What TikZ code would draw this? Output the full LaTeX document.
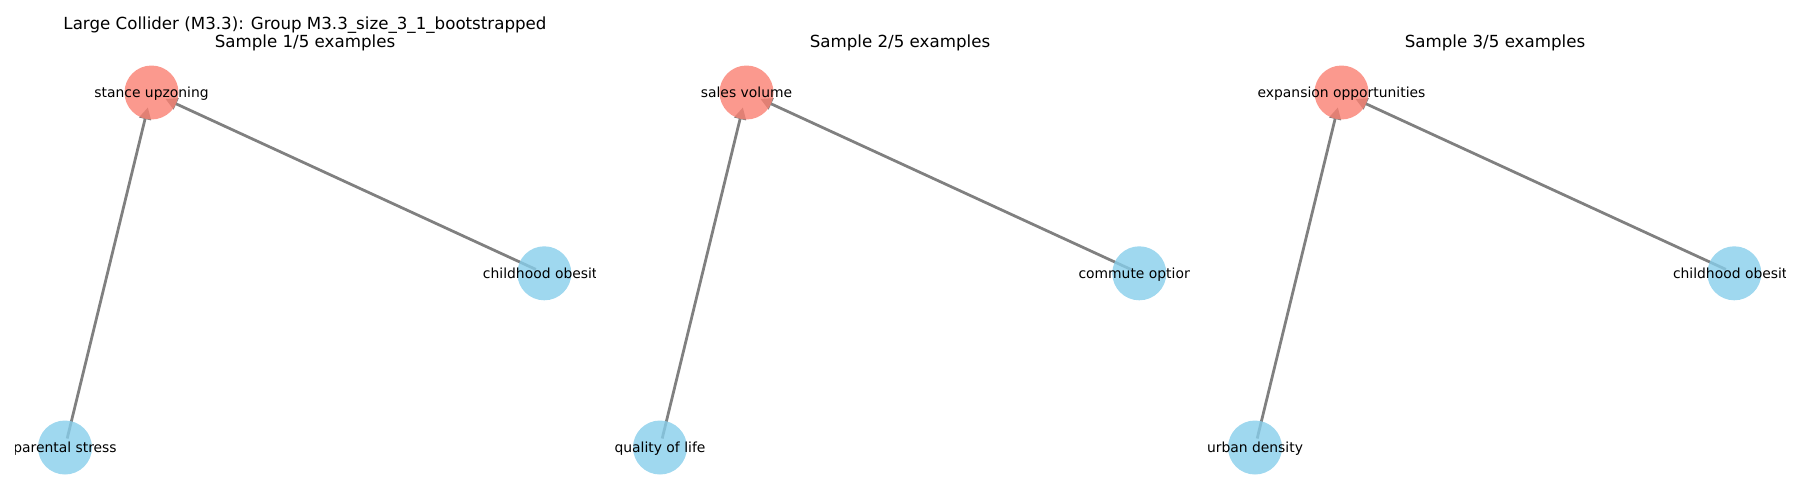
\documentclass[tikz,border=0pt]{standalone}
\usepackage{fontspec}
\setmainfont{DejaVu Sans}
\usetikzlibrary{arrows.meta}
\definecolor{salmonc}{HTML}{FA8072}
\definecolor{skyc}{HTML}{87CEEB}
\definecolor{edgec}{HTML}{808080}
\tikzset{
  vnode/.style={circle, inner sep=0pt, minimum size=38.88pt, fill opacity=0.8},
  effnode/.style={vnode, fill=salmonc},
  causenode/.style={vnode, fill=skyc},
  tgtanchor/.style={circle, inner sep=0pt, minimum size=21.6pt},
  srcanchor/.style={circle, inner sep=0pt, minimum size=12.96pt},
  lbl/.style={inner sep=0pt, anchor=base, yshift=-3.6pt, font=\fontsize{10}{12}\selectfont, text=black},
  ttl/.style={inner sep=0pt, anchor=base, font=\fontsize{12}{14}\selectfont, text=black},
  edge/.style={draw=edgec, line width=2pt, -{Triangle[length=8.6pt, width=8.5pt]}},
}
\begin{document}
\begin{tikzpicture}[x=0.72pt, y=-0.72pt]
\useasboundingbox (0,0) rectangle (1800,500);
% titles
\node[ttl] (t1a) at (305,29.3) {Large Collider (M3.3): Group M3.3\_size\_3\_1\_bootstrapped};
\node[ttl] (t1b) at (305,47.7) {Sample 1/5 examples};
\node[ttl] (t2) at (900,47.7) {Sample 2/5 examples};
\node[ttl] (t3) at (1495,47.7) {Sample 3/5 examples};
% node positions
\foreach \k/\dx in {1/0, 2/595, 3/1190}{
  \coordinate (pr\k) at (151.5+\dx, 92.5);
  \coordinate (pc\k) at (544.3+\dx, 273.3);
  \coordinate (pb\k) at (65+\dx, 447.5);
}
% panel 1
\begin{scope}
\clip (15,0) rectangle (595,500);
\node[tgtanchor] (e1) at (pr1) {};
\node[srcanchor] (c1) at (pc1) {};
\node[srcanchor] (b1) at (pb1) {};
\draw[edge] (b1) -- (e1);
\draw[edge] (c1) -- (e1);
\node[effnode] (e1f) at (pr1) {};
\node[causenode] (c1f) at (pc1) {};
\node[causenode] (b1f) at (pb1) {};
\node[lbl] (le1) at (pr1) {stance upzoning};
\node[lbl] (lc1) at (pc1) {childhood obesity};
\node[lbl] (lb1) at (pb1) {parental stress};
\end{scope}
% panel 2
\begin{scope}
\clip (610,0) rectangle (1189,500);
\node[tgtanchor] (e2) at (pr2) {};
\node[srcanchor] (c2) at (pc2) {};
\node[srcanchor] (b2) at (pb2) {};
\draw[edge] (b2) -- (e2);
\draw[edge] (c2) -- (e2);
\node[effnode] (e2f) at (pr2) {};
\node[causenode] (c2f) at (pc2) {};
\node[causenode] (b2f) at (pb2) {};
\node[lbl] (le2) at (pr2) {sales volume};
\node[lbl] (lc2) at (pc2) {commute options};
\node[lbl] (lb2) at (pb2) {quality of life};
\end{scope}
% panel 3
\begin{scope}
\clip (1205,0) rectangle (1785,500);
\node[tgtanchor] (e3) at (pr3) {};
\node[srcanchor] (c3) at (pc3) {};
\node[srcanchor] (b3) at (pb3) {};
\draw[edge] (b3) -- (e3);
\draw[edge] (c3) -- (e3);
\node[effnode] (e3f) at (pr3) {};
\node[causenode] (c3f) at (pc3) {};
\node[causenode] (b3f) at (pb3) {};
\node[lbl] (le3) at (pr3) {expansion opportunities};
\node[lbl] (lc3) at (pc3) {childhood obesity};
\node[lbl] (lb3) at (pb3) {urban density};
\end{scope}
\end{tikzpicture}
\end{document}
